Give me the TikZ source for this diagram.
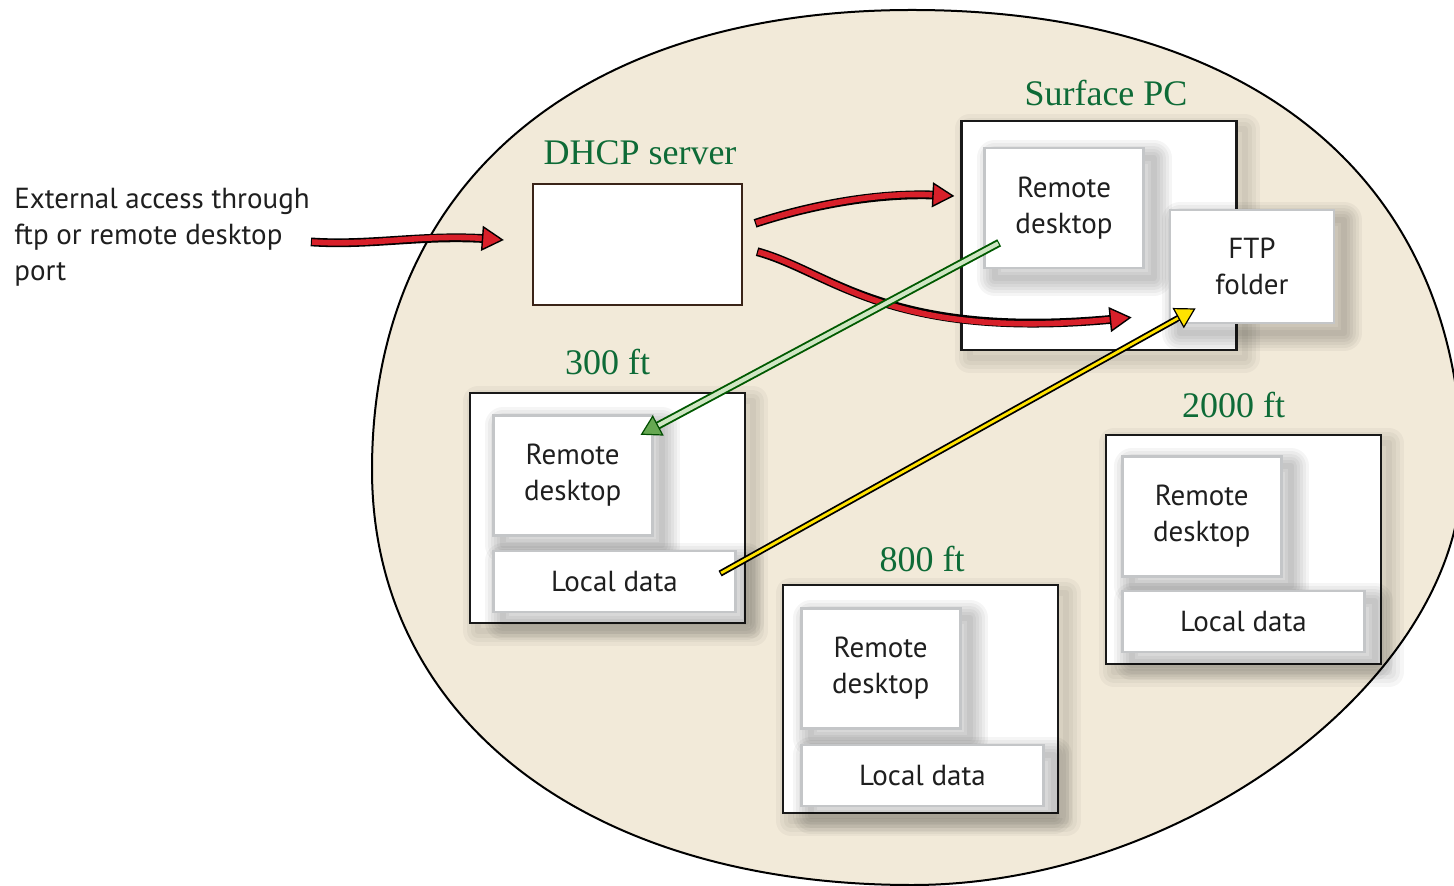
\documentclass[tikz,border=0pt]{standalone}
\usepackage{fontspec}
\setmainfont{PT Sans}
\newfontfamily\lblfont{Liberation Serif}
\usetikzlibrary{positioning,arrows.meta}
\definecolor{sand}{HTML}{F2EAD9}
\definecolor{lblgreen}{HTML}{0E6B37}
\definecolor{arrred}{HTML}{D8202A}
\definecolor{lnkgreen}{HTML}{CFE6C3}
\definecolor{tipgreen}{HTML}{66A852}
\definecolor{lnkyellow}{HTML}{FFE200}
\definecolor{dhcpbrown}{HTML}{3A2418}
\definecolor{inbord}{HTML}{C4C6C8}

\begin{document}
\begin{tikzpicture}[x=0.5pt, y=-0.5pt,
  halo/.style={preaction={draw=black, opacity=0.04, line width=#1, line join=round,
               transform canvas={shift={(5pt,-5pt)}}}},
  halo out/.style={preaction={draw=black, opacity=0.035, line width=#1, line join=round,
               transform canvas={shift={(4pt,-4pt)}}}},
  txt/.style={font=\fontsize{14.5}{18}\selectfont, text=black!88, align=center},
  plain/.style={draw=black!90, line width=1.2pt, fill=white, inner sep=0pt,
                minimum width=137.5pt, minimum height=114.5pt},
  outer/.style={plain, halo out=15pt, halo out=11pt, halo out=7pt, halo out=3pt},
  inbox/.style={txt, draw=inbord, line width=1.4pt, fill=white, inner sep=0pt,
                halo=18pt, halo=15pt, halo=12pt, halo=9pt, halo=6pt, halo=3pt},
  rdbox/.style={inbox, minimum width=79.5pt, minimum height=60pt},
  ldbox/.style={inbox, minimum width=121.25pt, minimum height=30.5pt},
  lbl/.style={font=\lblfont\fontsize{18}{20}\selectfont, text=lblgreen, anchor=base, inner sep=0pt},
  redarr/.style={draw=arrred, line width=2.8pt,
                 -{Triangle[length=11pt, width=12.5pt, fill=arrred, color=black, line width=0.7pt]},
                 preaction={draw=black, line width=4.4pt, -, shorten >=6pt, shorten <=-0.6pt}},
  grnlnk/.style={draw=lnkgreen, line width=2.1pt,
                 -{Triangle[length=10pt, width=11.5pt, fill=tipgreen, color=black!70!green, line width=0.6pt]},
                 preaction={draw=black!65!green, line width=4pt, -, shorten >=5pt, shorten <=-0.6pt}},
  ylwlnk/.style={draw=lnkyellow, line width=1.4pt,
                 -{Triangle[length=10pt, width=11.5pt, fill=lnkyellow, color=black, line width=0.6pt]},
                 preaction={draw=black, line width=3.2pt, -, shorten >=5pt, shorten <=-0.6pt}}]
\useasboundingbox (0,0) rectangle (1454,886);
\clip (0,0) rectangle (1454,886);
\fill[white] (0,0) rectangle (1454,886);
\draw[fill=sand, line width=1pt] (372,470)
  .. controls (372,185) and (577,10) .. (912,10)
  .. controls (1259,10) and (1462,185) .. (1462,470)
  .. controls (1462,677) and (1187,885) .. (912,885)
  .. controls (588,885) and (372,719) .. (372,470) -- cycle;

\node[txt, align=left, anchor=west, inner sep=0pt] (ext) at (14,237) {External access through\\ftp or remote desktop\\port};

\node[plain, draw=dhcpbrown, minimum width=104.5pt, minimum height=60.5pt] (dhcp) at (637.5,244.5) {};
\node[lbl, above=9pt of dhcp.north, xshift=1.25pt] (dhcplbl) {DHCP server};

\node[outer, minimum height=114.5pt] (surface) at (1099,235.5) {};
\node[lbl, above=7pt of surface.north, xshift=3.5pt] (surfacelbl) {Surface PC};
\node[rdbox] (srd) at (1064,208) {Remote\\desktop};
\node[inbox, minimum width=82pt, minimum height=56.5pt] (ftp) at (1252,266.5) {FTP\\folder};

\node[outer, minimum height=115pt] (b300) at (607.5,508) {};
\node[lbl, above=8.5pt of b300.north] (lbl300) {300 ft};
\node[rdbox, anchor=north west] (rd300) at ([shift={(11.5pt,-11pt)}]b300.north west) {Remote\\desktop};
\node[ldbox, below=6.5pt of rd300.south west, anchor=north west] (ld300) {Local data};

\node[outer, minimum height=114pt] (b800) at (920.5,699) {};
\node[lbl, above=6pt of b800.north, xshift=0.75pt] (lbl800) {800 ft};
\node[rdbox, anchor=north west] (rd800) at ([shift={(9pt,-11.5pt)}]b800.north west) {Remote\\desktop};
\node[ldbox, below=7pt of rd800.south west, anchor=north west] (ld800) {Local data};

\node[outer] (b2000) at (1243.5,549.5) {};
\node[lbl, above=8pt of b2000.north, xshift=-5pt] (lbl2000) {2000 ft};
\node[rdbox, anchor=north west] (rd2000) at ([shift={(8pt,-10.5pt)}]b2000.north west) {Remote\\desktop};
\node[ldbox, below=6pt of rd2000.south west, anchor=north west] (ld2000) {Local data};

\draw[redarr] ([shift={(1pt,-2.5pt)}]ext.east) .. controls +(60,4) and +(-80,-6) .. ([shift={(-14pt,2.25pt)}]dhcp.west);
\draw[redarr] ([shift={(6.5pt,10.75pt)}]dhcp.east) .. controls +(55,-18) and +(-75,-4) .. ([shift={(-3pt,19.75pt)}]surface.west);
\draw[redarr] ([shift={(7.5pt,-3.75pt)}]dhcp.east) .. controls +(73,20) and +(-243,24) .. ([shift={(-18.5pt,3.5pt)}]ftp.south west);
\draw[grnlnk] ([shift={(7.5pt,13pt)}]srd.south west) -- ([shift={(-6.5pt,-10.5pt)}]rd300.north east);
\draw[ylwlnk] ([shift={(-8pt,4.25pt)}]ld300.east) -- ([shift={(13.5pt,8pt)}]ftp.south west);
\end{tikzpicture}
\end{document}
